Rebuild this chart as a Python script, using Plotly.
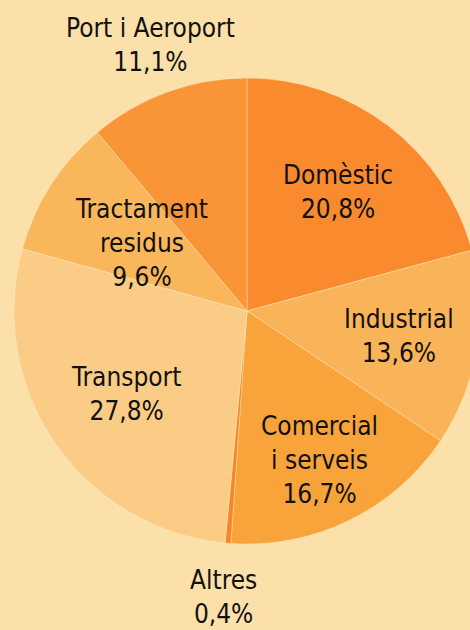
import math
import plotly.graph_objects as go

# ---- data ----
categories = ["Domèstic", "Industrial", "Comercial<br>i serveis", "Altres",
              "Transport", "Tractament<br>residus", "Port i Aeroport"]
values = [20.8, 13.6, 16.7, 0.4, 27.8, 9.6, 11.1]

# ---- styles ----
colors = ["#F98B2E", "#F9B459", "#F9A33B", "#F7852A",
          "#FBCC86", "#FAB65A", "#F99537"]
label_dist = [0.645, 0.66, 0.71, 1.23, 0.63, 0.54, 1.215]  # fraction of radius

W, H = 480, 630
dom_x = [14 / W, 1.0]
cy_px, r_px = 311, 233
dom_y = [1 - (cy_px + r_px) / H, 1 - (cy_px - r_px) / H]

fig = go.Figure(go.Pie(
    labels=categories, values=values, sort=False, direction="clockwise",
    rotation=0, textinfo="none", hoverinfo="label+percent",
    marker=dict(colors=colors, line=dict(color="rgba(255,236,200,0.55)", width=0.8)),
    domain=dict(x=dom_x, y=dom_y), showlegend=False,
))

cx = (dom_x[0] + dom_x[1]) / 2 * W
total = sum(values)
cum = 0.0
annotations = []
for cat, v, d in zip(categories, values, label_dist):
    mid = (cum + v / 2) / total * 2 * math.pi
    cum += v
    px = cx + d * r_px * math.sin(mid)
    py = cy_px - d * r_px * math.cos(mid)
    txt = f"{cat}<br>{v:.1f}".replace(".", ",") + "%"
    annotations.append(dict(
        x=px / W, y=1 - py / H, xref="paper", yref="paper", text=txt,
        showarrow=False, xanchor="center", yanchor="middle",
        font=dict(family="DejaVu Sans Condensed, Arial Narrow, sans-serif",
                  size=26, color="#111111"),
    ))

fig.update_layout(
    width=W, height=H, margin=dict(l=0, r=0, t=0, b=0),
    paper_bgcolor="#FBE0AA", plot_bgcolor="#FBE0AA",
    annotations=annotations,
)

fig.write_html("out.html", config={"displayModeBar": False},
               post_script="document.body.style.margin='0';document.body.style.overflow='hidden';")
